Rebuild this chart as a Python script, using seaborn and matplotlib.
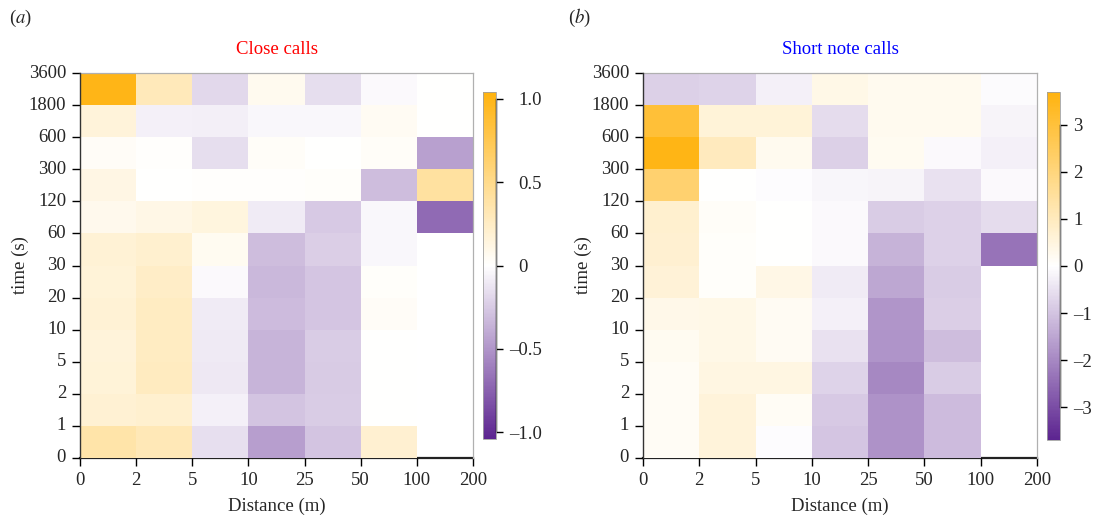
import numpy as np
import pandas as pd
import matplotlib
matplotlib.use("Agg")
import matplotlib.pyplot as plt
import seaborn as sns
from matplotlib.colors import LinearSegmentedColormap
from matplotlib.transforms import ScaledTranslation

# bins (edges) for the two axes
distance_edges = ["0", "2", "5", "10", "25", "50", "100", "200"]
time_edges = ["0", "1", "2", "5", "10", "20", "30", "60", "120", "300", "600", "1800", "3600"]

nan = np.nan

# rows listed top (1800-3600 s) to bottom (0-1 s), columns 0-2 ... 100-200 m
close_calls = [
    [1.00, 0.30, -0.18, 0.07, -0.16, -0.03, 0.00],
    [0.16, -0.07, -0.08, -0.04, -0.04, 0.05, 0.00],
    [0.04, 0.01, -0.16, 0.03, 0.00, 0.03, -0.45],
    [0.12, 0.00, 0.01, 0.01, 0.02, -0.31, 0.41],
    [0.08, 0.11, 0.14, -0.09, -0.26, -0.04, -0.70],
    [0.18, 0.21, 0.06, -0.31, -0.23, -0.04, nan],
    [0.17, 0.24, -0.03, -0.34, -0.27, 0.02, nan],
    [0.18, 0.26, -0.09, -0.32, -0.27, 0.04, nan],
    [0.16, 0.26, -0.10, -0.35, -0.24, 0.00, nan],
    [0.17, 0.27, -0.11, -0.35, -0.25, 0.00, nan],
    [0.19, 0.21, -0.07, -0.28, -0.24, 0.00, nan],
    [0.37, 0.31, -0.15, -0.46, -0.28, 0.20, nan],
]

short_note_calls = [
    [-0.80, -0.75, -0.25, 0.35, 0.25, 0.25, -0.08],
    [3.05, 0.60, 0.60, -0.60, 0.25, 0.25, -0.18],
    [3.60, 1.00, 0.25, -0.80, 0.22, -0.10, -0.25],
    [2.20, 0.00, -0.03, -0.15, -0.18, -0.52, -0.10],
    [0.75, 0.10, 0.00, -0.10, -0.85, -0.78, -0.60],
    [0.70, 0.07, 0.00, -0.10, -1.30, -0.78, -2.35],
    [0.63, 0.07, 0.40, -0.33, -1.50, -0.85, nan],
    [0.33, 0.37, 0.18, -0.26, -1.78, -0.82, nan],
    [0.22, 0.37, 0.18, -0.52, -1.80, -1.10, nan],
    [0.15, 0.45, 0.45, -0.74, -2.00, -0.85, nan],
    [0.15, 0.55, 0.15, -0.92, -1.85, -1.15, nan],
    [0.15, 0.55, -0.03, -0.96, -1.85, -1.15, nan],
]

close_ticks = [-1.0, -0.5, 0, 0.5, 1.0]
close_tick_labels = ["\u20131.0", "\u20130.5", "0", "0.5", "1.0"]
short_ticks = [-3, -2, -1, 0, 1, 2, 3]
short_tick_labels = ["\u20133", "\u20132", "\u20131", "0", "1", "2", "3"]

sns.set_style("white")
plt.rcParams["font.family"] = ["Liberation Serif", "DejaVu Serif"]
plt.rcParams["mathtext.fontset"] = "stix"

cmap = LinearSegmentedColormap.from_list("pu_w_or", ["#5c2490", "#ffffff", "#ffb30f"])

W, H = 1094, 517
FS = 13.5
fig = plt.figure(figsize=(W / 100, H / 100), dpi=100)


def box(x0, y0, x1, y1):
    return [x0 / W, 1 - y1 / H, (x1 - x0) / W, (y1 - y0) / H]


# (data, title, colour, limit, ticks, labels, axes box, cbar box, letter, letter x, cbar pad, hang minus)
panels = [
    (close_calls, "Close calls", "red", 1.04, close_ticks, close_tick_labels,
     box(80, 73, 473, 458), box(483, 92, 496, 439), "a", 9, 11, True),
    (short_note_calls, "Short note calls", "blue", 3.7, short_ticks, short_tick_labels,
     box(643, 73, 1037, 458), box(1047, 92, 1060, 440), "b", 568, 4.5, False),
]

for (data, title, tcolor, vlim, cticks, clabels, axpos, cpos,
     letter, lx, cpad, hang) in panels:
    ax = fig.add_axes(axpos)
    cax = fig.add_axes(cpos)
    df = pd.DataFrame(data, index=time_edges[::-1][:-1], columns=distance_edges[:-1])
    sns.heatmap(df, ax=ax, cbar_ax=cax, cmap=cmap, vmin=-vlim, vmax=vlim, linewidths=0)
    ax.collections[0].set_zorder(1)

    ax.set_xticks(np.arange(len(distance_edges)))
    ax.set_xticklabels(distance_edges, rotation=0, fontsize=FS)
    ax.set_yticks(np.arange(len(time_edges)))
    ax.set_yticklabels(time_edges[::-1], rotation=0, fontsize=FS)
    ax.tick_params(axis="both", direction="out", length=6, width=1, color="black",
                   left=True, bottom=True, pad=4)
    for name, sp in ax.spines.items():
        sp.set_visible(True)
        if name == "left":
            sp.set_color("#333333")
            sp.set_linewidth(1.0)
            sp.set_zorder(3)
        elif name == "bottom":
            sp.set_color("#222222")
            sp.set_linewidth(1.6)
            sp.set_zorder(0.5)
        else:
            sp.set_color("#b0b0b0")
            sp.set_linewidth(0.9)
    ax.set_xlabel("Distance (m)", fontsize=FS, labelpad=6)
    ax.set_ylabel("time (s)", fontsize=FS, labelpad=0)
    ax.set_title(title, color=tcolor, fontsize=FS, pad=14)

    cax.set_yticks(cticks)
    cax.set_yticklabels(clabels, fontsize=FS)
    cax.tick_params(axis="y", direction="out", length=5, width=1, color="black", right=True, pad=cpad)
    cax.spines["right"].set_visible(True)
    cax.spines["right"].set_color("black")
    cax.spines["right"].set_linewidth(1)
    cax.spines["right"].set_bounds(cticks[0], cticks[-1])
    cbar = ax.collections[0].colorbar
    cbar.outline.set_edgecolor("#a0a0a0")
    cbar.outline.set_linewidth(0.6)
    if hang:
        for lab in cax.get_yticklabels():
            if lab.get_text().startswith("\u2013"):
                lab.set_transform(lab.get_transform()
                                  + ScaledTranslation(-6.5 / 72, 0, fig.dpi_scale_trans))

    fig.text(lx / W, 1 - 18 / H, f"($\\it{{{letter}}}$)", fontsize=FS, va="center", ha="left")

fig.savefig("out.png", dpi=100)
